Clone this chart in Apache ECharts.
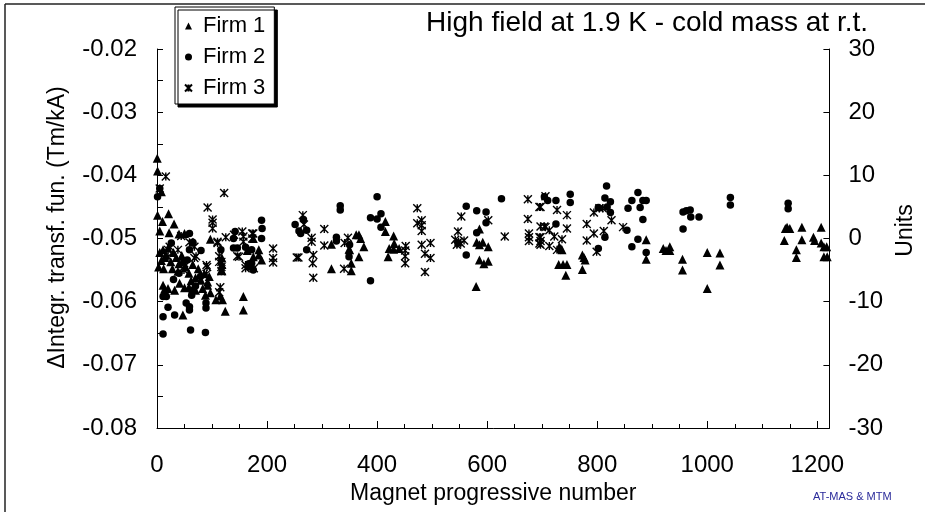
<!DOCTYPE html>
<html>
<head>
<meta charset="utf-8">
<script src="https://cdn.jsdelivr.net/npm/echarts@6/dist/echarts.min.js"></script>
<style>html,body{margin:0;padding:0;background:#fff}#c{width:925px;height:512px}</style>
</head>
<body>
<div id="c"></div>
<script>
const titleText = 'High field at 1.9 K - cold mass at r.t.';
const xName = 'Magnet progressive number';
const yLeftName = 'ΔIntegr. transf. fun. (Tm/kA)';
const yRightName = 'Units';
const seriesNames = ['Firm 1', 'Firm 2', 'Firm 3'];
const xTicks = [0, 200, 400, 600, 800, 1000, 1200];
const yLeftTicks = [-0.08, -0.07, -0.06, -0.05, -0.04, -0.03, -0.02];
const yRightTicks = [-30, -20, -10, 0, 10, 20, 30];

const firm1 = [
[0.5,-0.0373],[1,-0.0393],[8,-0.0426],[1,-0.0463],[21,-0.0461],[10,-0.0473],[31,-0.0477],[5,-0.0488],[22,-0.0491],[40,-0.0493],[50,-0.0492],[97,-0.0501],
[11,-0.0518],[16,-0.0526],[5,-0.0522],[8,-0.0535],[14,-0.0530],[20,-0.0515],[25,-0.0537],[30,-0.0522],[35,-0.0530],[40,-0.0540],[45,-0.0527],[47,-0.0535],[3,-0.0545],[12,-0.0548],[28,-0.0548],[38,-0.0552],[52,-0.0545],[58,-0.0555],[65,-0.0541],[70,-0.0562],[75,-0.0548],[80,-0.0566],[86,-0.0556],[92,-0.0569],[95,-0.0560],[62,-0.0567],
[11,-0.0574],[14,-0.0580],[20,-0.0579],[32,-0.0582],[41,-0.0571],[50,-0.0578],[58,-0.0577],[70,-0.0582],[83,-0.0579],[92,-0.0574],[107,-0.0597],[119,-0.0597],[115,-0.0591],[124,-0.0615],[157,-0.0592],[157,-0.0613],[47,-0.0621],[97,-0.0586],[88,-0.0590],
[118,-0.0531],[118,-0.0541],[118,-0.0551],[164,-0.0519],[175,-0.0500],[185,-0.0518],[175,-0.0529],[185,-0.0526],[190,-0.0534],[117,-0.0550],
[317,-0.0509],[317,-0.0548],[349,-0.0517],[353,-0.0539],[353,-0.0551],[350,-0.0518],[362,-0.0494],[367,-0.0494],[370,-0.0500],[376,-0.0513],[367,-0.0529],[415,-0.0473],[415,-0.0489],[430,-0.0496],[431,-0.0508],[422,-0.0516],[430,-0.0517],[440,-0.0516],[420,-0.0529],
[586,-0.0485],[581,-0.0506],[592,-0.0506],[586,-0.0510],[602,-0.0513],[586,-0.0534],[594,-0.0540],[602,-0.0536],[580,-0.0576],
[731,-0.0513],[734,-0.0516],[736,-0.0518],[730,-0.0541],[738,-0.0541],[745,-0.0541],[743,-0.0558],[773,-0.0526],[776,-0.0530],[778,-0.0534],[773,-0.0549],[889,-0.0502],[889,-0.0533],[920,-0.0516],[925,-0.0519],[932,-0.0513],[932,-0.0519],[955,-0.0533],[955,-0.0550],[1000,-0.0522],[1000,-0.0579],[1023,-0.0523],[1023,-0.0542],
[1140,-0.0503],[1142,-0.0484],[1145,-0.0482],[1150,-0.0484],[1162,-0.0518],[1162,-0.0530],[1172,-0.0482],[1172,-0.0502],[1193,-0.0498],[1195,-0.0503],[1207,-0.0482],[1207,-0.0507],[1212,-0.0513],[1217,-0.0513],[1212,-0.0529],[1218,-0.0529]
];

const firm2 = [
[5,-0.0421],[1,-0.0434],[59,-0.0492],[65,-0.0506],[80,-0.0519],[26,-0.0507],[59,-0.0518],[55,-0.0534],[65,-0.0507],[79,-0.0560],[63,-0.0582],[63,-0.0590],[17,-0.0592],[11,-0.0592],[20,-0.0609],[11,-0.0624],[32,-0.0621],[53,-0.0602],[59,-0.0613],[59,-0.0608],[89,-0.0602],[89,-0.0610],[11,-0.0651],[61,-0.0645],[88,-0.0649],[40,-0.0555],[30,-0.0565],[70,-0.0575],
[142,-0.0489],[139,-0.0500],[139,-0.0515],[146,-0.0515],[161,-0.0514],[167,-0.0540],[167,-0.0545],[116,-0.0518],
[190,-0.0471],[191,-0.0484],[190,-0.0500],[172,-0.0518],[172,-0.0539],[175,-0.0550],
[251,-0.0478],[258,-0.0488],[261,-0.0492],[272,-0.0487],[266,-0.0470],[272,-0.0518],
[333,-0.0448],[333,-0.0455],[326,-0.0498],[326,-0.0504],[350,-0.0510],[349,-0.0529],
[400,-0.0434],[388,-0.0467],[400,-0.0469],[407,-0.0461],[407,-0.0482],[388,-0.0567],
[562,-0.0449],[547,-0.0507],[562,-0.0526],[581,-0.0456],[581,-0.0491],[598,-0.0458],[598,-0.0475],[626,-0.0437],
[704,-0.0434],[710,-0.0440],[725,-0.0440],[725,-0.0477],[751,-0.0430],[751,-0.0443],
[802,-0.0451],[814,-0.0498],[802,-0.0516],[817,-0.0417],[814,-0.0436],[824,-0.0442],[818,-0.0450],[824,-0.0459],[854,-0.0487],[856,-0.0452],[863,-0.0440],[874,-0.0427],[878,-0.0451],[883,-0.0440],[889,-0.0440],[883,-0.0470],[874,-0.0501],[863,-0.0513],[889,-0.0522],
[956,-0.0458],[962,-0.0456],[969,-0.0455],[970,-0.0466],[985,-0.0466],[956,-0.0485],
[1042,-0.0435],[1042,-0.0447],[1147,-0.0444],[1147,-0.0453]
];

const firm3 = [
[16,-0.0402],[5,-0.0421],[44,-0.0496],[23,-0.0513],[38,-0.0518],[20,-0.0518],[20,-0.0529],[59,-0.0506],[68,-0.0513],[68,-0.0531],[49,-0.0539],[49,-0.0545],[49,-0.0550],[71,-0.0528],[90,-0.0542],[91,-0.0545],[90,-0.0556],
[122,-0.0428],[92,-0.0451],[101,-0.0470],[101,-0.0475],[101,-0.0484],[110,-0.0505],[110,-0.0507],[125,-0.0498],[140,-0.0494],[117,-0.0537],[117,-0.0545],[117,-0.0552],[113,-0.0528],[113,-0.0537],[115,-0.0577],[113,-0.0585],
[146,-0.0528],[161,-0.0547],[176,-0.0547],[155,-0.0489],[157,-0.0497],[157,-0.0505],[173,-0.0492],[173,-0.0500],[149,-0.0529],[161,-0.0542],
[175,-0.0492],[211,-0.0516],[211,-0.0531],[211,-0.0538],
[265,-0.0463],[267,-0.0478],[281,-0.0499],[281,-0.0505],[284,-0.0526],[283,-0.0539],[284,-0.0562],[257,-0.0530],[254,-0.0530],[304,-0.0485],[304,-0.0511],
[341,-0.0507],[347,-0.0499],[340,-0.0548],
[452,-0.0512],[451,-0.0519],[451,-0.0528],[451,-0.0539],
[473,-0.0452],[473,-0.0476],[481,-0.0471],[481,-0.0479],[481,-0.0488],[481,-0.0510],[497,-0.0507],[487,-0.0524],[497,-0.0531],[487,-0.0553],
[553,-0.0465],[547,-0.0489],[542,-0.0502],[548,-0.0505],[552,-0.0508],[558,-0.0503],[545,-0.0510],
[602,-0.0471],[632,-0.0497],
[674,-0.0438],[674,-0.0469],[676,-0.0492],[676,-0.0498],[676,-0.0504],[697,-0.0450],[697,-0.0481],[704,-0.0481],[697,-0.0498],[697,-0.0504],[697,-0.0510],
[706,-0.0433],[695,-0.0450],[727,-0.0455],[745,-0.0463],[706,-0.0482],[713,-0.0487],[722,-0.0497],[695,-0.0498],[695,-0.0508],[713,-0.0512],[727,-0.0518],[745,-0.0484],[736,-0.0501],
[781,-0.0477],[781,-0.0503],[794,-0.0492],[794,-0.0459],[812,-0.0488],[799,-0.0521],[804,-0.0452],[810,-0.0452],[826,-0.0471],[847,-0.0482]
];

const FONT = 'Liberation Sans, Arial, sans-serif';
const X_MAX = 1222;
const starPath = 'path://M0,0L10,10M10,0L0,10M5,0L5,10';

const chart = echarts.init(document.getElementById('c'), null, {renderer: 'canvas'});
const axisLineStyle = {color: '#000', width: 1};
chart.setOption({
  animation: false,
  backgroundColor: '#fff',
  textStyle: {fontFamily: FONT},
  title: {
    text: titleText, right: 57, top: 9, padding: 0,
    textStyle: {fontSize: 28, fontWeight: 'normal', color: '#000', fontFamily: FONT}
  },
  legend: {
    orient: 'vertical', left: 175, top: 7,
    padding: [8, 9, 5, 9], itemGap: 9,
    itemWidth: 7, itemHeight: 7,
    backgroundColor: '#fff', borderColor: '#000', borderWidth: 1,
    shadowColor: '#000', shadowOffsetX: 3, shadowOffsetY: 3, shadowBlur: 0,
    textStyle: {fontSize: 22, color: '#000', fontFamily: FONT, lineHeight: 22, padding: [0, 0, 0, 6]},
    data: seriesNames
  },
  grid: {left: 157, right: 91, top: 49, bottom: 84, containLabel: false},
  xAxis: [{
    type: 'value', min: 0, max: X_MAX, interval: 200,
    position: 'bottom',
    name: xName, nameLocation: 'middle', nameGap: 54,
    nameTextStyle: {fontSize: 23, color: '#000', fontFamily: FONT},
    axisLine: {show: true, onZero: false, lineStyle: axisLineStyle},
    axisTick: {show: true, inside: true, length: 7, lineStyle: axisLineStyle},
    axisLabel: {
      fontSize: 24, color: '#000', margin: 25, fontFamily: FONT,
      formatter: v => (xTicks.indexOf(v) >= 0 ? String(v) : '')
    },
    splitLine: {show: false}
  }, {
    type: 'value', min: 0, max: X_MAX, interval: 50,
    position: 'bottom', offset: 0,
    axisLine: {show: false, onZero: false},
    axisTick: {show: true, inside: true, length: 4, lineStyle: axisLineStyle},
    axisLabel: {show: false},
    splitLine: {show: false}
  }],
  yAxis: [{
    type: 'value', min: -0.08, max: -0.02, interval: 0.01,
    position: 'left',
    name: yLeftName, nameLocation: 'middle', nameGap: 88,
    nameTextStyle: {fontSize: 23, color: '#000', fontFamily: FONT, padding: [0, 0, 0, 22]},
    axisLine: {show: true, onZero: false, lineStyle: axisLineStyle},
    axisTick: {show: true, inside: true, length: 6, lineStyle: axisLineStyle},
    minorTick: {show: true, splitNumber: 2, length: 6, lineStyle: axisLineStyle},
    axisLabel: {
      fontSize: 24, color: '#000', margin: 20, fontFamily: FONT,
      formatter: v => {
        const r = Math.round(v * 100) / 100;
        return yLeftTicks.indexOf(r) >= 0 ? r.toFixed(2) : '';
      }
    },
    splitLine: {show: false}
  }, {
    type: 'value', min: -30, max: 30, interval: 10,
    position: 'right',
    name: yRightName, nameLocation: 'middle', nameGap: 60,
    nameTextStyle: {fontSize: 23, color: '#000', fontFamily: FONT, padding: [0, 0, 0, 16]},
    axisLine: {show: true, onZero: false, lineStyle: axisLineStyle},
    axisTick: {show: true, inside: true, length: 6, lineStyle: axisLineStyle},
    axisLabel: {
      fontSize: 24, color: '#000', margin: 19, fontFamily: FONT,
      formatter: v => (yRightTicks.indexOf(v) >= 0 ? String(v) : '')
    },
    splitLine: {show: false}
  }],
  series: [{
    name: seriesNames[0], type: 'scatter', data: firm1, clip: false,
    symbol: 'triangle', symbolSize: 9,
    itemStyle: {color: '#000', opacity: 1}
  }, {
    name: seriesNames[1], type: 'scatter', data: firm2, clip: false,
    symbol: 'circle', symbolSize: 7.5,
    itemStyle: {color: '#000', opacity: 1}
  }, {
    name: seriesNames[2], type: 'scatter', data: firm3, clip: false,
    symbol: starPath, symbolSize: 8,
    itemStyle: {color: '#000', borderColor: '#000', borderWidth: 1.4, opacity: 1}
  }],
  graphic: [
    {type: 'line', shape: {x1: 5, y1: 4, x2: 925, y2: 4}, style: {stroke: '#222', lineWidth: 1.5}, silent: true},
    {type: 'line', shape: {x1: 5, y1: 4, x2: 5, y2: 512}, style: {stroke: '#222', lineWidth: 1.5}, silent: true},
    {type: 'text', left: 813, top: 491, silent: true,
     style: {text: 'AT-MAS & MTM', fill: '#2a2a9a', font: '11px ' + FONT}}
  ]
});
</script>
</body>
</html>
